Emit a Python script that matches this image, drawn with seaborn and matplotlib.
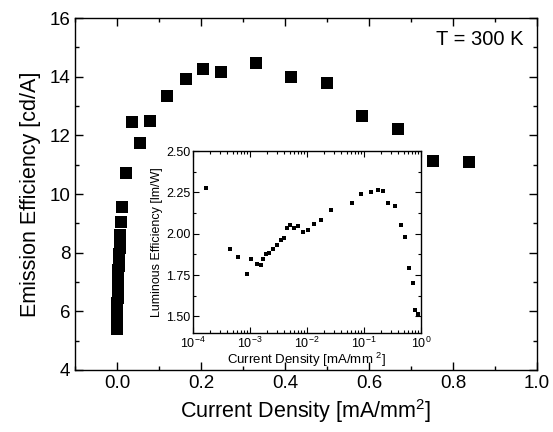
import numpy as np
import pandas as pd
import matplotlib
matplotlib.use("Agg")
import matplotlib.pyplot as plt
import matplotlib.ticker as mticker
import seaborn as sns

# ---- main plot data: current density [mA/mm2] vs emission efficiency [cd/A]
main_x = [0.0002, 0.0003, 0.0004, 0.0005, 0.0006, 0.0008, 0.0010, 0.0012,
          0.0015, 0.0018, 0.0020, 0.0025, 0.0030, 0.0035, 0.0040, 0.0045,
          0.0050, 0.0060, 0.0070, 0.0080, 0.0095,
          0.012, 0.021, 0.036, 0.055, 0.079, 0.119, 0.164, 0.205, 0.248,
          0.331, 0.414, 0.500, 0.583, 0.669, 0.752, 0.838]
main_y = [5.40, 5.55, 5.70, 5.85, 6.00, 6.15, 6.30, 6.45,
          6.60, 6.75, 6.90, 7.05, 7.20, 7.40, 7.55, 7.75,
          7.95, 8.15, 8.35, 8.60, 9.05,
          9.56, 10.72, 12.45, 11.74, 12.49, 13.34, 13.92, 14.26, 14.16,
          14.47, 13.99, 13.78, 12.66, 12.22, 11.12, 11.09]

# ---- inset data: current density (log) vs luminous efficiency [lm/W]
inset_x = [1.7e-4, 4.4e-4, 6.1e-4, 8.7e-4, 1.05e-3, 1.32e-3, 1.55e-3, 1.70e-3,
           1.91e-3, 2.19e-3, 2.57e-3, 3.02e-3, 3.47e-3, 3.98e-3, 4.37e-3,
           5.13e-3, 6.03e-3, 7.08e-3, 8.61e-3, 1.05e-2, 1.32e-2, 1.76e-2,
           2.63e-2, 6.08e-2, 8.71e-2, 0.132, 0.174, 0.219, 0.267, 0.355,
           0.447, 0.531, 0.624, 0.714, 0.794, 0.897]
inset_y = [2.279, 1.91, 1.86, 1.757, 1.85, 1.82, 1.81, 1.85,
           1.878, 1.884, 1.908, 1.934, 1.964, 1.974, 2.036,
           2.054, 2.034, 2.048, 2.008, 2.02, 2.056, 2.084,
           2.146, 2.185, 2.243, 2.255, 2.263, 2.261, 2.183, 2.17,
           2.05, 1.98, 1.793, 1.70, 1.542, 1.516]

main_df = pd.DataFrame({"j": main_x, "eff": main_y})
inset_df = pd.DataFrame({"j": inset_x, "lum": inset_y})

sns.set_style("ticks")
plt.rcParams["font.family"] = ["Liberation Sans", "DejaVu Sans"]
plt.rcParams["mathtext.fontset"] = "custom"
plt.rcParams["mathtext.rm"] = "Liberation Sans"
plt.rcParams["mathtext.it"] = "Liberation Sans:italic"
plt.rcParams["mathtext.bf"] = "Liberation Sans:bold"
for key in ["text.color", "axes.labelcolor", "xtick.color", "ytick.color",
            "axes.edgecolor", "xtick.labelcolor", "ytick.labelcolor"]:
    plt.rcParams[key] = "black"

fig = plt.figure(figsize=(5.53, 4.32), dpi=100)
ax = fig.add_axes([75/553, 1-370/432, (537-75)/553, (370-18)/432])

sns.scatterplot(data=main_df, x="j", y="eff", ax=ax, marker="s", s=85,
                color="black", linewidth=0, legend=False)
ax.set_xlim(-0.1, 1.0)
ax.set_ylim(4, 16)
ax.xaxis.set_major_locator(mticker.MultipleLocator(0.2))
ax.xaxis.set_minor_locator(mticker.MultipleLocator(0.1))
ax.yaxis.set_major_locator(mticker.MultipleLocator(2))
ax.yaxis.set_minor_locator(mticker.MultipleLocator(1))
ax.xaxis.set_major_formatter(mticker.FormatStrFormatter("%.1f"))
ax.tick_params(which="both", direction="in", top=True, right=True,
               labelsize=13.5, width=1.0, colors="black")
ax.tick_params(which="major", length=6)
ax.tick_params(which="minor", length=3)
for sp in ax.spines.values():
    sp.set_linewidth(1.0)
    sp.set_color("black")
ax.set_xlabel(r"Current Density [mA/mm$^2$]", fontsize=15.5, labelpad=4,
              color="black")
ax.set_ylabel("Emission Efficiency [cd/A]", fontsize=15.5, labelpad=6,
              color="black")
ax.text(0.97, 0.965, "T = 300 K", transform=ax.transAxes, ha="right",
        va="top", fontsize=14.5, color="black")

# ---- inset
axi = fig.add_axes([193/553, 1-333/432, (421-193)/553, (333-151)/432])
sns.scatterplot(data=inset_df, x="j", y="lum", ax=axi, marker="s", s=12,
                color="black", linewidth=0, legend=False)
axi.set_xscale("log")
axi.set_xlim(1e-4, 1e0)
axi.set_ylim(1.40, 2.50)
axi.yaxis.set_major_locator(mticker.MultipleLocator(0.25))
axi.yaxis.set_minor_locator(mticker.MultipleLocator(0.125))
axi.yaxis.set_major_formatter(mticker.FormatStrFormatter("%.2f"))
axi.xaxis.set_major_locator(mticker.LogLocator(base=10, numticks=10))
axi.xaxis.set_minor_locator(mticker.LogLocator(base=10, subs=np.arange(2, 10), numticks=20))
axi.xaxis.set_minor_formatter(mticker.NullFormatter())
axi.tick_params(which="both", direction="in", top=True, right=True,
                labelsize=9, width=0.8, pad=2, colors="black")
axi.tick_params(which="major", length=4)
axi.tick_params(which="minor", length=2)
for sp in axi.spines.values():
    sp.set_linewidth(1.0)
    sp.set_color("black")
axi.set_xlabel(r"Current Density [mA/mm $^2$]", fontsize=9.5, labelpad=0,
               color="black")
axi.set_ylabel("Luminous Efficiency [lm/W]", fontsize=9, labelpad=2,
               color="black")

fig.savefig("out.png", dpi=100)
